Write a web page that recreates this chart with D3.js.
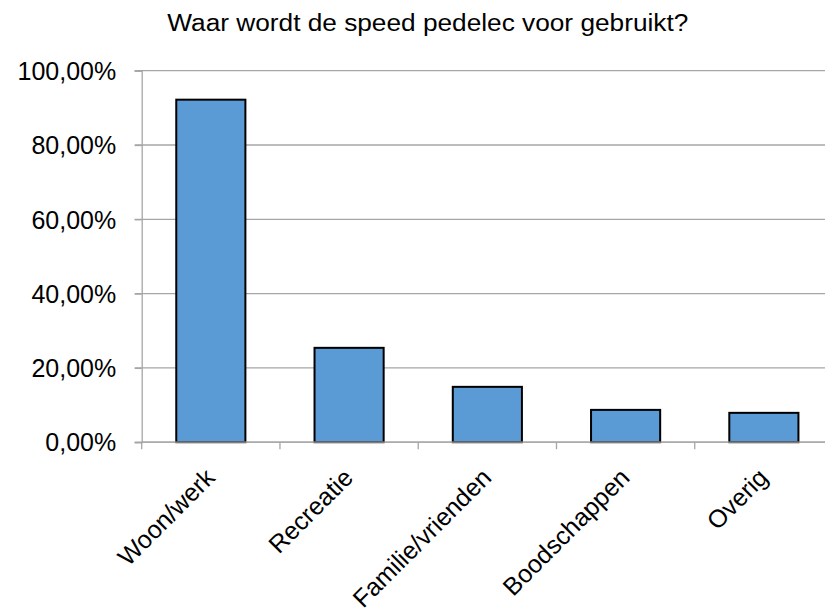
<!DOCTYPE html>
<html>
<head>
<meta charset="utf-8">
<script src="https://cdn.jsdelivr.net/npm/d3@7/dist/d3.min.js"></script>
<style>
  html, body { margin: 0; padding: 0; background: #fff; }
  svg { display: block; font-family: "Liberation Sans", Arial, sans-serif; }
</style>
</head>
<body>
<svg id="chart" width="825" height="612"></svg>
<script>
// Usage purposes of the speed pedelec (share of respondents)
const categories = ["Woon/werk", "Recreatie", "Familie/vrienden", "Boodschappen", "Overig"];
const values = [0.922, 0.254, 0.149, 0.087, 0.079];
const yTicks = [0, 0.2, 0.4, 0.6, 0.8, 1.0];
const title = "Waar wordt de speed pedelec voor gebruikt?";

const svg = d3.select("#chart");
const plot = { left: 141.7, right: 833, top: 70.7, bottom: 442.2 };
const gridColor = "#a6a6a6";

const x = d3.scaleBand().domain(categories).range([plot.left, plot.right]).paddingInner(0.5).paddingOuter(0.25);
const y = d3.scaleLinear().domain([0, 1]).range([plot.bottom, plot.top]);
const fmt = v => (v * 100).toFixed(2).replace(".", ",") + "%";

// horizontal gridlines
svg.append("g").selectAll("line").data(yTicks).join("line")
  .attr("x1", plot.left - 7).attr("x2", plot.right)
  .attr("y1", d => y(d)).attr("y2", d => y(d))
  .attr("stroke", gridColor).attr("stroke-width", 1.3);

// y axis
const yAxis = svg.append("g").attr("transform", `translate(${plot.left},0)`)
  .call(d3.axisLeft(y).tickValues(yTicks).tickFormat(fmt).tickSize(7).tickPadding(18.5));
yAxis.select(".domain").attr("stroke", gridColor).attr("stroke-width", 1.3);
yAxis.selectAll(".tick line").attr("stroke", gridColor).attr("stroke-width", 1.3);
yAxis.selectAll(".tick text").attr("font-size", 25).attr("fill", "#000")
  .attr("font-family", "Liberation Sans, Arial, sans-serif").attr("dy", "0.35em");

// category tick marks at band edges
const edges = categories.map(c => x(c) - x.step() * 0.25).concat([plot.right]);
svg.append("g").selectAll("line").data(edges).join("line")
  .attr("x1", d => d).attr("x2", d => d)
  .attr("y1", plot.bottom).attr("y2", plot.bottom + 7)
  .attr("stroke", gridColor).attr("stroke-width", 1.3);

// bars
svg.append("g").selectAll("rect").data(categories).join("rect")
  .attr("x", d => x(d))
  .attr("y", (d, i) => y(values[i]))
  .attr("width", x.bandwidth())
  .attr("height", (d, i) => plot.bottom - y(values[i]))
  .attr("fill", "#5b9bd5")
  .attr("stroke", "#000").attr("stroke-width", 2);

// baseline over bars
svg.append("line").attr("x1", plot.left).attr("x2", plot.right)
  .attr("y1", plot.bottom).attr("y2", plot.bottom)
  .attr("stroke", gridColor).attr("stroke-width", 1.3);

// rotated category labels
svg.append("g").selectAll("text").data(categories).join("text")
  .attr("transform", d => `translate(${x(d) + x.bandwidth() / 2 + 5.5},${plot.bottom + 37}) rotate(-45)`)
  .attr("text-anchor", "end")
  .attr("font-size", 25)
  .attr("fill", "#000")
  .text(d => d);

// title
svg.append("text")
  .attr("x", 427.8).attr("y", 30.7)
  .attr("text-anchor", "middle")
  .attr("font-size", 23)
  .attr("textLength", 521)
  .attr("lengthAdjust", "spacingAndGlyphs")
  .attr("fill", "#000")
  .text(title);
</script>
</body>
</html>
